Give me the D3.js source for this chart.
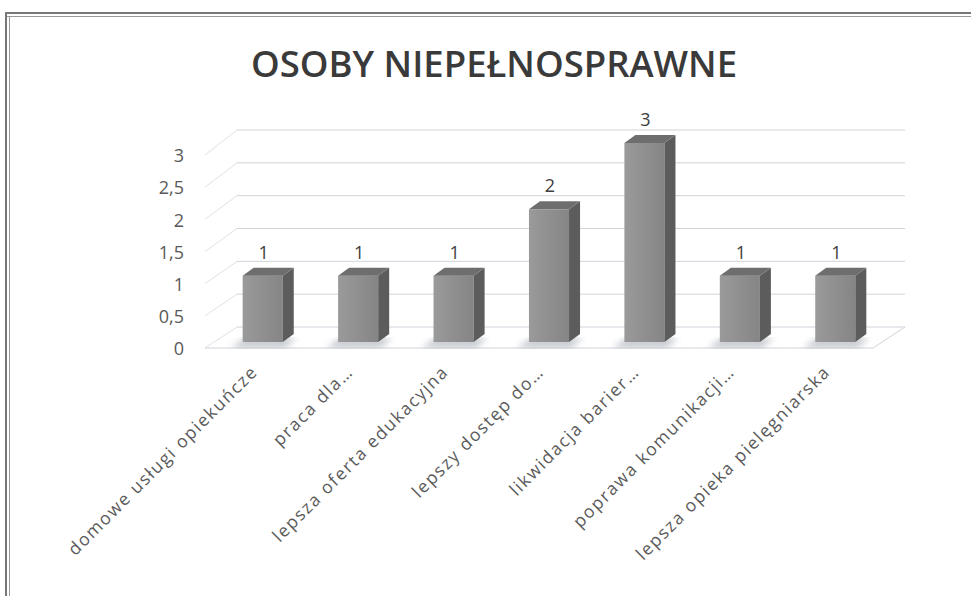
<!DOCTYPE html>
<html>
<head>
<meta charset="utf-8">
<script src="https://cdn.jsdelivr.net/npm/d3@7"></script>
<style>
  body { margin: 0; background: #fff; }
  .chart text { font-family: "Open Sans", sans-serif; }
  .title { font-size: 36.5px; font-weight: 600; fill: #3a3a3a; }
  .y-label { font-size: 18px; fill: #595959; }
  .x-label { font-size: 17.5px; fill: #5a5a5a; letter-spacing: 1.6px; }
  .value-label { font-size: 18px; fill: #404040; }
  .grid { stroke: #cfd3da; stroke-width: 1; }
</style>
</head>
<body>
<div class="chart"></div>
<script>
var width = 971, height = 596;

// data
var categories = ["domowe usługi opiekuńcze", "praca dla…", "lepsza oferta edukacyjna", "lepszy dostęp do…",
  "likwidacja barier…", "poprawa komunikacji…", "lepsza opieka pielęgniarska"];
var values = [1, 1, 1, 2, 3, 1, 1];
var yTicks = [0, 0.5, 1, 1.5, 2, 2.5, 3];
var yTickLabels = ["0", "0,5", "1", "1,5", "2", "2,5", "3"];
var chartTitle = "OSOBY NIEPEŁNOSPRAWNE";

var depth = {x: 32, y: -21},   // floor/wall depth
  barDepth = {x: 11, y: -8};

var svg = d3.select(".chart").append("svg")
    .attr("width", width)
    .attr("height", height);

var x = d3.scaleBand()
    .domain(categories)
    .range([215, 883])
    .paddingInner(0.58)
    .paddingOuter(0.29);

var yFront = d3.scaleLinear().domain([0, 3]).range([349, 156]);
var yBack = d3.scaleLinear().domain([0, 3]).range([327, 130]);
var yBar = d3.scaleLinear().domain([0, 3]).range([342, 143]);

var defs = svg.append("defs");
var grad = defs.append("linearGradient").attr("id", "front");
grad.append("stop").attr("offset", "0%").attr("stop-color", "#9a9a9a");
grad.append("stop").attr("offset", "100%").attr("stop-color", "#858585");
defs.append("filter").attr("id", "blur")
  .append("feGaussianBlur").attr("stdDeviation", 3);

drawFrame();
drawGrid();
drawBars();
drawLabels();

function drawFrame(){
  svg.append("line")
      .attr("x1", 5).attr("x2", width).attr("y1", 13).attr("y2", 13)
      .attr("stroke", "#777").attr("stroke-width", 2);
  svg.append("line")
      .attr("x1", 5).attr("x2", width).attr("y1", 16.5).attr("y2", 16.5)
      .attr("stroke", "#999").attr("stroke-width", 1);
  svg.append("line")
      .attr("x1", 6).attr("x2", 6).attr("y1", 12).attr("y2", height)
      .attr("stroke", "#777").attr("stroke-width", 2);
  svg.append("line")
      .attr("x1", 9.5).attr("x2", 9.5).attr("y1", 16).attr("y2", height)
      .attr("stroke", "#999").attr("stroke-width", 1);

  svg.append("text")
      .attr("class", "title")
      .attr("x", 494)
      .attr("y", 77)
      .style("text-anchor", "middle")
      .text(chartTitle);
}

function drawGrid(){
  var left = x.range()[0] - 10, right = x.range()[1] - 10;

  // back wall lines
  svg.selectAll(".grid.back")
      .data(yTicks)
    .enter().append("line")
      .attr("class", "grid back")
      .attr("x1", left + depth.x)
      .attr("x2", right + depth.x)
      .attr("y1", function(d){ return yBack(d); })
      .attr("y2", function(d){ return yBack(d); });

  // side wall diagonals
  svg.selectAll(".grid.side")
      .data(yTicks)
    .enter().append("line")
      .attr("class", "grid side")
      .attr("x1", left)
      .attr("x2", left + depth.x)
      .attr("y1", function(d){ return yFront(d) - 1; })
      .attr("y2", function(d){ return yBack(d); })
      .attr("stroke-opacity", 0.7);

  // floor front edge
  svg.append("line")
      .attr("class", "grid")
      .attr("x1", left).attr("x2", right)
      .attr("y1", yFront(0) - 1).attr("y2", yFront(0) - 1)
      .attr("stroke", "#c4c8d0");
  svg.append("line")
      .attr("class", "grid")
      .attr("x1", right).attr("x2", right + depth.x)
      .attr("y1", yFront(0) - 1).attr("y2", yBack(0));

  svg.selectAll(".y-label")
      .data(yTicks)
    .enter().append("text")
      .attr("class", "y-label")
      .attr("x", 184)
      .attr("y", function(d){ return yFront(d); })
      .attr("dy", "0.35em")
      .style("text-anchor", "end")
      .text(function(d, i){ return yTickLabels[i]; });
}

function drawBars(){
  var data = categories.map(function(c, i){ return {cat: c, value: values[i]}; });
  var w = x.bandwidth();

  var bar = svg.selectAll(".bar")
      .data(data)
    .enter().append("g")
      .attr("class", "bar");

  // soft shadow on the floor
  bar.append("polygon")
      .attr("points", function(d){
        var x0 = x(d.cat), yb = yBar(0);
        return [[x0 - 12, yb + 6], [x0 + w + 2, yb + 6], [x0 + w + 14, yb - 4], [x0 + 2, yb - 4]].join(" ");
      })
      .attr("fill", "#b9bdc4")
      .attr("opacity", 0.8)
      .attr("filter", "url(#blur)");

  bar.append("rect")
      .attr("x", function(d){ return x(d.cat); })
      .attr("y", function(d){ return yBar(d.value); })
      .attr("width", w)
      .attr("height", function(d){ return yBar(0) - yBar(d.value); })
      .attr("fill", "url(#front)");

  bar.append("polygon")
      .attr("points", function(d){
        var x1 = x(d.cat) + w, yt = yBar(d.value), yb = yBar(0);
        return [[x1, yt], [x1 + barDepth.x, yt + barDepth.y], [x1 + barDepth.x, yb + barDepth.y], [x1, yb]].join(" ");
      })
      .attr("fill", "#5c5c5c");

  bar.append("polygon")
      .attr("points", function(d){
        var x0 = x(d.cat), yt = yBar(d.value);
        return [[x0, yt], [x0 + barDepth.x, yt + barDepth.y], [x0 + w + barDepth.x, yt + barDepth.y], [x0 + w, yt]].join(" ");
      })
      .attr("fill", "#6e6e6e");

  bar.append("text")
      .attr("class", "value-label")
      .attr("x", function(d){ return x(d.cat) + w / 2 + 1; })
      .attr("y", function(d){ return yBar(d.value) - 17; })
      .style("text-anchor", "middle")
      .text(function(d){ return d.value; });
}

function drawLabels(){
  svg.selectAll(".x-label")
      .data(categories)
    .enter().append("text")
      .attr("class", "x-label")
      .attr("transform", function(d){
        return "translate(" + (x(d) + x.bandwidth() / 2 - 4) + ",373) rotate(-45)";
      })
      .style("text-anchor", "end")
      .text(function(d){ return d; });
}
</script>
</body>
</html>
